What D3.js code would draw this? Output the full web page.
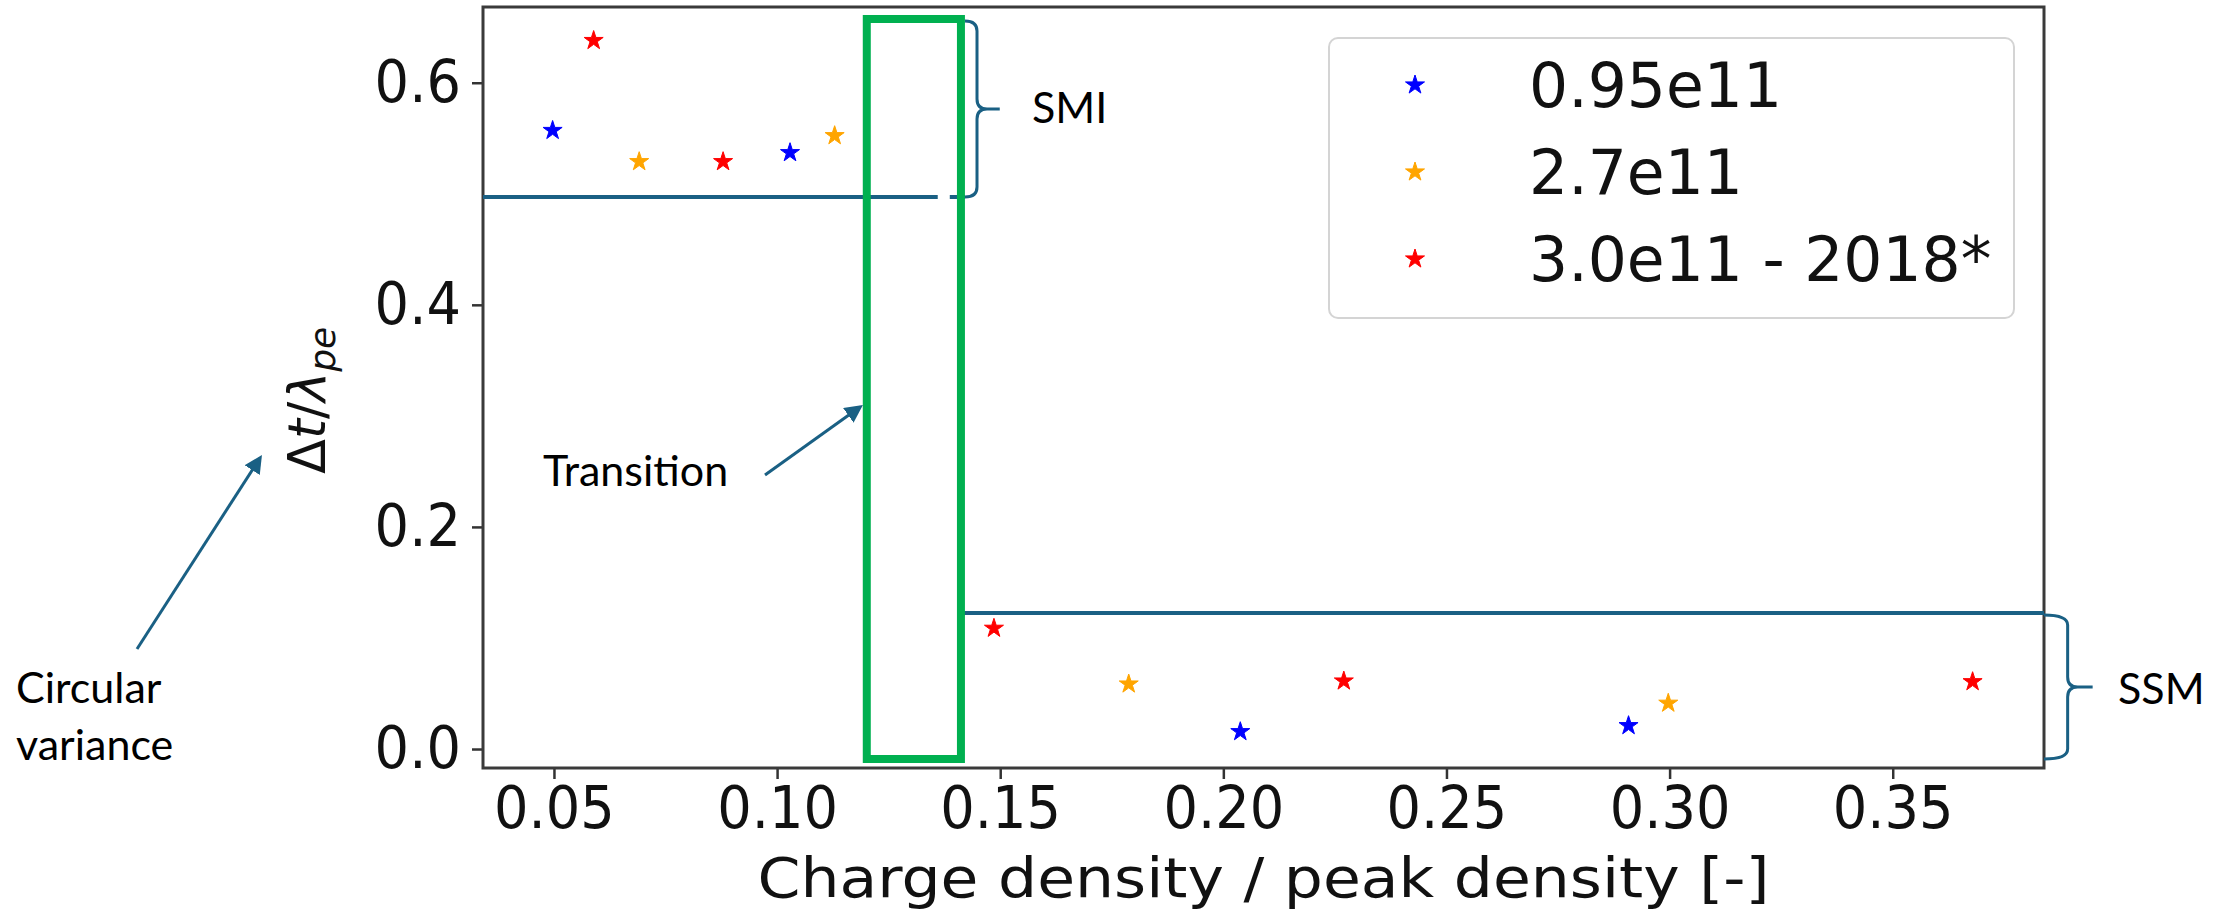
<!DOCTYPE html>
<html><head><meta charset="utf-8">
<script src="https://cdn.jsdelivr.net/npm/d3@7"></script>
<style>body{margin:0;background:#fff} svg{display:block}</style>
</head><body>
<svg id="c" width="2220" height="912"></svg>
<script>
// ---- data ----
const xTicks = [0.05, 0.10, 0.15, 0.20, 0.25, 0.30, 0.35];
const yTicks = [0.0, 0.2, 0.4, 0.6];
const seriesNames = ["0.95e11", "2.7e11", "3.0e11 - 2018*"];
const x095 = [0.0497, 0.1029, 0.2038, 0.2908];
const y095 = [0.557, 0.537, 0.0156, 0.021];
const x27 = [0.0691, 0.1129, 0.1788, 0.2997];
const y27 = [0.5289, 0.5523, 0.0585, 0.0412];
const x30 = [0.0589, 0.0879, 0.1486, 0.227, 0.3679];
const y30 = [0.638, 0.5289, 0.1087, 0.0612, 0.0606];
const xDomain = [0.0341, 0.3839];
const yDomain = [-0.0171, 0.6682];
// annotation levels (data units)
const smiLevel = 0.497;
const ssmLevel = 0.1225;
const transitionX = [0.1201, 0.1412];
const transitionY = [-0.009, 0.6574];

// ---- styles ----
const colors = ["#0000ff", "#ffa500", "#ff0000"];
const annColor = "#1a6084";
const green = "#00b050";
const annFont = "Lato, 'Open Sans', sans-serif";
const mplFont = "'DejaVu Sans', sans-serif";

const svg = d3.select("#c");
const x = d3.scaleLinear().domain(xDomain).range([483, 2044]);
const y = d3.scaleLinear().domain(yDomain).range([768, 7]);

const series = [
  {name: seriesNames[0], xs: x095, ys: y095, color: colors[0]},
  {name: seriesNames[1], xs: x27, ys: y27, color: colors[1]},
  {name: seriesNames[2], xs: x30, ys: y30, color: colors[2]}
];

const starR = 10;
const star = d3.symbol(d3.symbolStar, starR * starR / 0.8908130915292852);

// axes
const xAxis = svg.append("g").attr("transform", `translate(0,${y.range()[0]})`)
  .call(d3.axisBottom(x).tickValues(xTicks).tickFormat(d3.format(".2f")).tickSize(11).tickPadding(7));
const yAxis = svg.append("g").attr("transform", `translate(${x.range()[0]},0)`)
  .call(d3.axisLeft(y).tickValues(yTicks).tickFormat(d3.format(".1f")).tickSize(11).tickPadding(13));
[xAxis, yAxis].forEach(a => {
  a.select(".domain").remove();
  a.selectAll(".tick line").attr("stroke", "#333").attr("stroke-width", 2.5);
  a.selectAll(".tick text").attr("font-family", mplFont).attr("font-size", 59).attr("fill", "#111")
    .attr("transform", "scale(0.92,1)");
});

// frame
svg.append("rect")
  .attr("x", x.range()[0]).attr("y", y.range()[1])
  .attr("width", x.range()[1] - x.range()[0]).attr("height", y.range()[0] - y.range()[1])
  .attr("fill", "none").attr("stroke", "#3a3a3a").attr("stroke-width", 3);

// axis labels
svg.append("text").attr("x", (x.range()[0] + x.range()[1]) / 2).attr("y", 897)
  .attr("text-anchor", "middle").attr("font-family", mplFont).attr("font-size", 56)
  .attr("textLength", 1012).attr("lengthAdjust", "spacingAndGlyphs")
  .attr("fill", "#111").text("Charge density / peak density [-]");

const yl = svg.append("text").attr("transform", "translate(325,474) rotate(-90)")
  .attr("font-family", mplFont).attr("font-size", 51).attr("fill", "#111");
yl.append("tspan").text("Δ");
yl.append("tspan").attr("font-style", "italic").text("t");
yl.append("tspan").text("/");
yl.append("tspan").attr("font-style", "italic").text("λ");
yl.append("tspan").attr("font-style", "italic").attr("font-size", 36).attr("dy", 10).text("pe");

// annotations inside plot
const line = (pts) => d3.line()(pts);
// SMI horizontal line with small gap
svg.append("path")
  .attr("d", `M${x(xDomain[0])},${y(smiLevel)} L${x(0.136)},${y(smiLevel)} M${x(0.1387)},${y(smiLevel)} L${x(0.1421)},${y(smiLevel)}`)
  .attr("stroke", annColor).attr("stroke-width", 4).attr("fill", "none");
// SSM horizontal line
svg.append("path")
  .attr("d", `M${x(transitionX[1])},${y(ssmLevel)} L${x(xDomain[1])},${y(ssmLevel)}`)
  .attr("stroke", annColor).attr("stroke-width", 4).attr("fill", "none");

function brace(x0, x1, xt, yt, yb) {
  const r = 10, ym = (yt + yb) / 2;
  return `M${x0},${yt} Q${x1},${yt} ${x1},${yt + r} L${x1},${ym - r} Q${x1},${ym} ${x1 + r},${ym} L${xt},${ym} ` +
         `M${x1 + r},${ym} Q${x1},${ym} ${x1},${ym + r} L${x1},${yb - r} Q${x1},${yb} ${x0},${yb}`;
}
svg.append("path")
  .attr("d", brace(x(0.1421), x(0.1448), x(0.1499), y(0.6556), y(smiLevel)))
  .attr("stroke", annColor).attr("stroke-width", 3).attr("fill", "none");
svg.append("path")
  .attr("d", brace(x(xDomain[1]), x(0.3892), x(0.3948), y(0.1207), y(-0.009)))
  .attr("stroke", annColor).attr("stroke-width", 3).attr("fill", "none");

// transition box
svg.append("rect")
  .attr("x", x(transitionX[0])).attr("y", y(transitionY[1]))
  .attr("width", x(transitionX[1]) - x(transitionX[0]))
  .attr("height", y(transitionY[0]) - y(transitionY[1]))
  .attr("fill", "none").attr("stroke", green).attr("stroke-width", 8);

// points
series.forEach(s => {
  svg.append("g").selectAll("path").data(s.xs.map((v, i) => [v, s.ys[i]])).join("path")
    .attr("d", star).attr("transform", d => `translate(${x(d[0])},${y(d[1])})`)
    .attr("fill", s.color).attr("stroke", s.color).attr("stroke-width", 1);
});

// legend
const lg = svg.append("g");
lg.append("rect").attr("x", 1329).attr("y", 38).attr("width", 685).attr("height", 280).attr("rx", 9)
  .attr("fill", "#fff").attr("fill-opacity", 0.8).attr("stroke", "#d4d4d4").attr("stroke-width", 2);
series.forEach((s, i) => {
  const cy = 85 + i * 87;
  lg.append("path").attr("d", star).attr("transform", `translate(1415,${cy})`)
    .attr("fill", s.color).attr("stroke", s.color).attr("stroke-width", 1);
  lg.append("text").attr("x", 1529).attr("y", cy + 22).attr("font-family", mplFont)
    .attr("font-size", 61.5).attr("fill", "#111").text(s.name);
});

// text annotations + arrows (overlay)
const defs = svg.append("defs");
defs.append("marker").attr("id", "ah").attr("viewBox", "0 0 10 10").attr("refX", 8).attr("refY", 5)
  .attr("markerWidth", 6).attr("markerHeight", 6).attr("orient", "auto-start-reverse")
  .attr("markerUnits", "strokeWidth")
  .append("path").attr("d", "M0,0 L10,5 L0,10 z").attr("fill", annColor);

const tx = (t, xx, yy) => svg.append("text").attr("x", xx).attr("y", yy).attr("font-family", annFont)
  .attr("font-size", 43).attr("fill", "#000").text(t);
tx("SMI", 1032, 123);
tx("SSM", 2118, 704);
tx("Transition", 543, 486);
tx("Circular", 16, 703);
tx("variance", 16, 760);

svg.append("path").attr("d", line([[765, 475], [860, 407]]))
  .attr("stroke", annColor).attr("stroke-width", 3).attr("marker-end", "url(#ah)");
svg.append("path").attr("d", line([[137, 649], [260, 458]]))
  .attr("stroke", annColor).attr("stroke-width", 3).attr("marker-end", "url(#ah)");
</script>
</body></html>
